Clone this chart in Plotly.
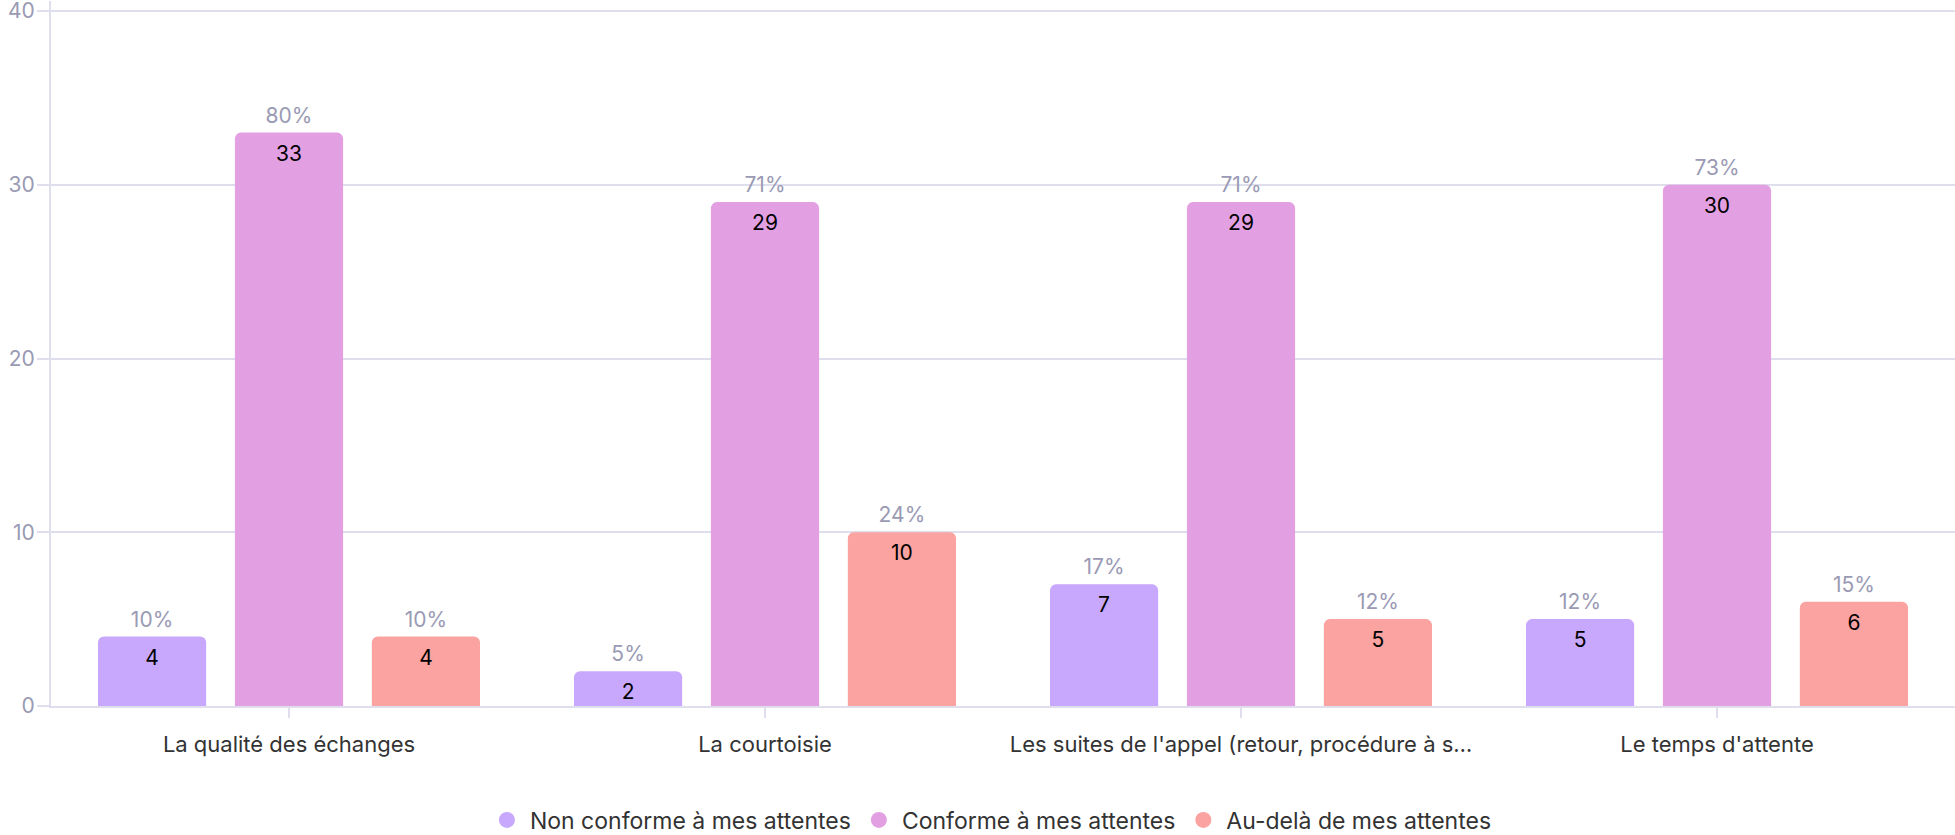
import plotly.graph_objects as go

categories = ["La qualité des échanges", "La courtoisie",
              "Les suites de l'appel (retour, procédure à s…", "Le temps d'attente"]
series_names = ["Non conforme à mes attentes", "Conforme à mes attentes", "Au-delà de mes attentes"]
non_conforme = [4, 2, 7, 5]
conforme = [33, 29, 29, 30]
au_dela = [4, 10, 5, 6]
pct_non_conforme = ["10%", "5%", "17%", "12%"]
pct_conforme = ["80%", "71%", "71%", "73%"]
pct_au_dela = ["10%", "24%", "12%", "15%"]
y_ticks = [0, 10, 20, 30, 40]
colors = ["#c8a8fc", "#e2a0e3", "#fba3a0"]

FONT = "Inter"
GRID = "#dedeec"
GRAY = "#9a9ab4"
GAP = 0.137

values = [non_conforme, conforme, au_dela]
pcts = [pct_non_conforme, pct_conforme, pct_au_dela]

fig = go.Figure()
for i, (name, vals, col) in enumerate(zip(series_names, values, colors)):
    fig.add_trace(go.Bar(
        x=categories, y=vals, name=name, offsetgroup=str(i),
        marker=dict(color=col, line=dict(width=0), cornerradius=6),
        showlegend=False, hoverinfo="skip",
    ))

for i, (name, vals, pc) in enumerate(zip(series_names, values, pcts)):
    fig.add_trace(go.Scatter(
        x=categories, y=vals, offsetgroup=str(i), mode="markers+text",
        marker=dict(size=18, opacity=0), text=[str(v) for v in vals],
        textposition="bottom center", textfont=dict(color="#000000", size=21, family=FONT),
        cliponaxis=False, showlegend=False, hoverinfo="skip",
    ))
    fig.add_trace(go.Scatter(
        x=categories, y=vals, offsetgroup=str(i), mode="markers+text",
        marker=dict(size=6, opacity=0), text=pc,
        textposition="top center", textfont=dict(color=GRAY, size=21, family=FONT),
        cliponaxis=False, showlegend=False, hoverinfo="skip",
    ))

for i, (name, col) in enumerate(zip(series_names, colors)):
    fig.add_trace(go.Scatter(
        x=[categories[0]], y=[None], mode="markers", name=name, offsetgroup=str(i),
        marker=dict(color=col, size=21, symbol="circle"), showlegend=True,
    ))

y_top = 40.575
fig.update_layout(
    width=1955, height=835,
    barmode="group", bargap=GAP, bargroupgap=0.21,
    scattermode="group", scattergap=GAP,
    plot_bgcolor="white", paper_bgcolor="white",
    margin=dict(l=51, r=0, t=1, b=129, autoexpand=False),
    font=dict(family=FONT, size=21, color="#333333"),
    legend=dict(orientation="h", x=0.4934, xanchor="center", y=-0.1617, yanchor="middle",
                font=dict(size=23, color="#333333", family=FONT), itemwidth=36,
                traceorder="normal"),
    xaxis=dict(showline=True, linecolor=GRID, linewidth=2, ticks="outside", ticklen=10,
               tickcolor=GRID, tickwidth=2, tickfont=dict(size=22, color="#333333"),
               ticklabelstandoff=8, showgrid=False, automargin=False),
    yaxis=dict(range=[0, y_top], tickvals=y_ticks, showline=True, linecolor=GRID, linewidth=2,
               ticks="outside", ticklen=12, tickcolor=GRID, tickwidth=2,
               gridcolor=GRID, gridwidth=2, zeroline=False, automargin=False,
               ticklabeloverflow="allow", ticklabelstandoff=-2,
               tickfont=dict(size=21, color=GRAY)),
)

fig.write_html("out.html", config={"displayModeBar": False},
               post_script="document.body.style.margin='0px';document.body.style.overflow='hidden';")
